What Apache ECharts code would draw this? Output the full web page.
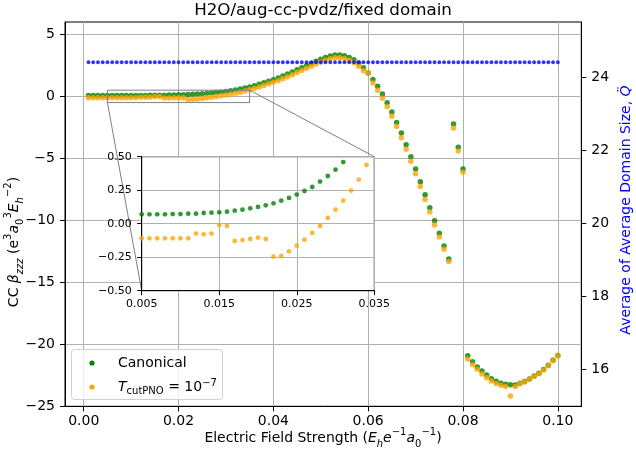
<!DOCTYPE html>
<html><head><meta charset="utf-8">
<script src="https://cdn.jsdelivr.net/npm/echarts@6/dist/echarts.min.js"></script>
<style>html,body{margin:0;padding:0;background:#fff}#c{width:636px;height:454px}</style>
</head><body><div id="c"></div>
<script>
const fieldStrength = [
  0.001,0.002,0.003,0.004,0.005,0.006,0.007,0.008,0.009,0.010,
  0.011,0.012,0.013,0.014,0.015,0.016,0.017,0.018,0.019,0.020,
  0.021,0.022,0.023,0.024,0.025,0.026,0.027,0.028,0.029,0.030,
  0.031,0.032,0.033,0.034,0.035,0.036,0.037,0.038,0.039,0.040,
  0.041,0.042,0.043,0.044,0.045,0.046,0.047,0.048,0.049,0.050,
  0.051,0.052,0.053,0.054,0.055,0.056,0.057,0.058,0.059,0.060,
  0.061,0.062,0.063,0.064,0.065,0.066,0.067,0.068,0.069,0.070,
  0.071,0.072,0.073,0.074,0.075,0.076,0.077,0.078,0.079,0.080,
  0.081,0.082,0.083,0.084,0.085,0.086,0.087,0.088,0.089,0.090,
  0.091,0.092,0.093,0.094,0.095,0.096,0.097,0.098,0.099,0.100
];
const canonical = [
  0.070,0.070,0.070,0.070,0.070,0.070,0.070,0.070,0.072,0.072,
  0.075,0.075,0.080,0.082,0.085,0.090,0.097,0.105,0.115,0.125,
  0.137,0.152,0.172,0.192,0.217,0.244,0.274,0.314,0.356,0.403,
  0.460,0.52,0.59,0.67,0.75,0.86,0.97,1.10,1.23,1.35,
  1.49,1.64,1.80,1.96,2.14,2.31,2.48,2.66,2.84,2.99,
  3.14,3.26,3.34,3.34,3.27,3.13,2.96,2.69,2.31,1.88,
  1.37,0.81,0.19,-0.52,-1.27,-2.10,-2.96,-3.90,-4.87,-5.86,
  -6.89,-7.94,-8.98,-10.03,-11.05,-12.07,-13.12,-2.23,-4.11,-5.86,
  -20.92,-21.40,-21.83,-22.16,-22.47,-22.77,-22.98,-23.14,-23.22,-23.27,
  -23.28,-23.15,-23.00,-22.79,-22.55,-22.34,-22.04,-21.69,-21.29,-20.90
];
const tcutPNO = [
  -0.109,-0.109,-0.109,-0.109,-0.109,-0.109,-0.109,-0.109,-0.109,-0.109,
  -0.109,-0.074,-0.079,-0.074,-0.010,-0.017,-0.129,-0.122,-0.114,-0.104,
  -0.114,-0.246,-0.241,-0.206,-0.164,-0.119,-0.069,-0.017,0.043,0.105,
  0.172,0.247,0.329,0.438,0.53,0.64,0.75,0.88,1.01,1.13,
  1.27,1.42,1.58,1.74,1.92,2.09,2.26,2.44,2.62,2.77,
  2.92,3.04,3.11,3.12,3.06,2.92,2.72,2.44,2.06,1.88,
  1.07,0.50,-0.15,-0.84,-1.61,-2.42,-3.34,-4.27,-5.24,-6.24,
  -7.26,-8.31,-9.33,-10.38,-11.35,-12.34,-13.31,-2.55,-4.41,-6.13,
  -21.19,-21.65,-22.02,-22.40,-22.70,-22.96,-23.17,-23.31,-23.40,-24.17,
  -23.40,-23.18,-23.04,-22.82,-22.58,-22.37,-22.07,-21.72,-21.32,-20.92
];
const domainSize = [
  24.4,24.4,24.4,24.4,24.4,24.4,24.4,24.4,24.4,24.4,
  24.4,24.4,24.4,24.4,24.4,24.4,24.4,24.4,24.4,24.4,
  24.4,24.4,24.4,24.4,24.4,24.4,24.4,24.4,24.4,24.4,
  24.4,24.4,24.4,24.4,24.4,24.4,24.4,24.4,24.4,24.4,
  24.4,24.4,24.4,24.4,24.4,24.4,24.4,24.4,24.4,24.4,
  24.4,24.4,24.4,24.4,24.4,24.4,24.4,24.4,24.4,24.4,
  24.4,24.4,24.4,24.4,24.4,24.4,24.4,24.4,24.4,24.4,
  24.4,24.4,24.4,24.4,24.4,24.4,24.4,24.4,24.4,24.4,
  24.4,24.4,24.4,24.4,24.4,24.4,24.4,24.4,24.4,24.4,
  24.4,24.4,24.4,24.4,24.4,24.4,24.4,24.4,24.4,24.4
];
const xTicks = [0, 0.02, 0.04, 0.06, 0.08, 0.10];
const xTickLabels = ['0.00','0.02','0.04','0.06','0.08','0.10'];
const leftTicks = [-25, -20, -15, -10, -5, 0, 5];
const rightTicks = [16, 18, 20, 22, 24];
const insetXTicks = [0.005, 0.015, 0.025, 0.035];
const insetXTickLabels = ['0.005','0.015','0.025','0.035'];
const insetYTicks = [-0.5, -0.25, 0, 0.25, 0.5];
const insetYTickLabels = ['\u22120.50','\u22120.25','0.00','0.25','0.50'];
const insetRange = {x: [0.005, 0.035], y: [-0.5, 0.5]};

const FONT = '"DejaVu Sans", sans-serif';
const pairs = ys => fieldStrength.map((x, i) => [x, ys[i]]);
const minus = s => String(s).replace('-', '\u2212');

const chart = echarts.init(document.getElementById('c'), null, {renderer: 'canvas'});

const richBase = {
  n: {fontSize: 14, fontFamily: FONT, lineHeight: 22, color: '#000'},
  i: {fontSize: 14, fontFamily: FONT, fontStyle: 'italic', lineHeight: 22, color: '#000'},
  sub: {fontSize: 10, fontFamily: FONT, lineHeight: 12, verticalAlign: 'bottom', color: '#000'},
  subi: {fontSize: 10, fontFamily: FONT, fontStyle: 'italic', lineHeight: 12, verticalAlign: 'bottom', color: '#000'},
  sup: {fontSize: 10, fontFamily: FONT, lineHeight: 12, verticalAlign: 'top', color: '#000'}
};
const richBlue = {
  n: {fontSize: 14, fontFamily: FONT, lineHeight: 22, color: '#0000ff'},
  i: {fontSize: 14, fontFamily: FONT, fontStyle: 'italic', lineHeight: 22, color: '#0000ff'}
};
const legendRich = {
  n: {fontSize: 14, fontFamily: FONT, lineHeight: 18, color: '#000'},
  i: {fontSize: 14, fontFamily: FONT, fontStyle: 'italic', lineHeight: 18, color: '#000'},
  sub: {fontSize: 10, fontFamily: FONT, lineHeight: 10, verticalAlign: 'bottom', color: '#000'},
  sup: {fontSize: 10, fontFamily: FONT, lineHeight: 10, verticalAlign: 'top', color: '#000'}
};
const axisLineStyle = {show: true, onZero: false, lineStyle: {color: '#000', width: 1}};

const option = {
  animation: false,
  backgroundColor: '#fff',
  grid: [
    {left: 65, top: 22, width: 516.3, height: 384.3, show: true, borderColor: '#000', borderWidth: 1, backgroundColor: 'transparent', z: 0},
    {left: 141.7, top: 156.7, width: 232.6, height: 134, show: true, borderColor: '#000', borderWidth: 1, backgroundColor: '#fff', z: 10}
  ],
  xAxis: [
    {type: 'value', gridIndex: 0, min: -0.00395, max: 0.10495,
     axisLine: axisLineStyle,
     axisTick: {show: true, length: 5, lineStyle: {color: '#000'}, customValues: xTicks},
     axisLabel: {customValues: xTicks, formatter: v => xTickLabels[xTicks.indexOf(v)], fontSize: 14, fontFamily: FONT, color: '#000', margin: 8},
     splitLine: {show: true, lineStyle: {color: '#b0b0b0', width: 1}}},
    {type: 'value', gridIndex: 1, min: insetRange.x[0], max: insetRange.x[1], z: 11,
     axisLine: axisLineStyle,
     axisTick: {show: true, length: 4.5, lineStyle: {color: '#000'}, customValues: insetXTicks},
     axisLabel: {customValues: insetXTicks, formatter: v => insetXTickLabels[insetXTicks.indexOf(v)], fontSize: 11, fontFamily: FONT, color: '#000', margin: 8},
     splitLine: {show: true, lineStyle: {color: '#b0b0b0', width: 1}}}
  ],
  yAxis: [
    {type: 'value', gridIndex: 0, position: 'left', min: -25, max: 6,
     axisLine: axisLineStyle,
     axisTick: {show: true, length: 5, lineStyle: {color: '#000'}, customValues: leftTicks},
     axisLabel: {customValues: leftTicks, formatter: v => minus(v), fontSize: 14, fontFamily: FONT, color: '#000', margin: 10},
     splitLine: {show: true, lineStyle: {color: '#b0b0b0', width: 1}}},
    {type: 'value', gridIndex: 0, position: 'right', min: 15, max: 25.5,
     axisLine: axisLineStyle,
     axisTick: {show: true, length: 5, lineStyle: {color: '#000'}, customValues: rightTicks},
     axisLabel: {customValues: rightTicks, formatter: v => String(v), fontSize: 14, fontFamily: FONT, color: '#000', margin: 10},
     splitLine: {show: false}},
    {type: 'value', gridIndex: 1, min: insetRange.y[0], max: insetRange.y[1], z: 11,
     axisLine: axisLineStyle,
     axisTick: {show: true, length: 4.5, lineStyle: {color: '#000'}, customValues: insetYTicks},
     axisLabel: {customValues: insetYTicks, formatter: v => insetYTickLabels[insetYTicks.indexOf(v)], fontSize: 11, fontFamily: FONT, color: '#000', margin: 10},
     splitLine: {show: true, lineStyle: {color: '#b0b0b0', width: 1}}}
  ],
  series: [
    {type: 'scatter', name: 'Canonical', xAxisIndex: 0, yAxisIndex: 0, data: pairs(canonical),
     symbol: 'circle', symbolSize: 5.5, itemStyle: {color: '#008000'}, z: 2, silent: true},
    {type: 'scatter', name: 'Tcut', xAxisIndex: 0, yAxisIndex: 0, data: pairs(tcutPNO),
     symbol: 'circle', symbolSize: 5.5, itemStyle: {color: '#ffa500'}, z: 3, silent: true},
    {type: 'scatter', name: 'Domain', xAxisIndex: 0, yAxisIndex: 1, data: pairs(domainSize),
     symbol: 'circle', symbolSize: 3.8, itemStyle: {color: '#0000ff'}, z: 4, silent: true},
    {type: 'scatter', name: 'Canonical inset', xAxisIndex: 1, yAxisIndex: 2, data: pairs(canonical),
     symbol: 'circle', symbolSize: 4.8, itemStyle: {color: '#008000'}, z: 12, clip: true, silent: true},
    {type: 'scatter', name: 'Tcut inset', xAxisIndex: 1, yAxisIndex: 2, data: pairs(tcutPNO),
     symbol: 'circle', symbolSize: 4.8, itemStyle: {color: '#ffa500'}, z: 13, clip: true, silent: true}
  ]
};
chart.setOption(option);

// zoom indicator rectangle and connectors, computed from axes
const mainPx = pt => chart.convertToPixel({xAxisIndex: 0, yAxisIndex: 0}, pt);
const insetPx = pt => chart.convertToPixel({xAxisIndex: 1, yAxisIndex: 2}, pt);
const rLL = mainPx([insetRange.x[0], insetRange.y[0]]);
const rUR = mainPx([insetRange.x[1], insetRange.y[1]]);
const iLL = insetPx([insetRange.x[0], insetRange.y[0]]);
const iUR = insetPx([insetRange.x[1], insetRange.y[1]]);
const grey = '#7f7f7f';
const center = {textAlign: 'center', textVerticalAlign: 'middle', align: 'center', verticalAlign: 'middle'};

chart.setOption({
  graphic: [
    {type: 'rect', z: 5, silent: true,
     shape: {x: rLL[0], y: rUR[1], width: rUR[0] - rLL[0], height: rLL[1] - rUR[1]},
     style: {fill: 'none', stroke: grey, lineWidth: 1}},
    {type: 'line', z: 5, silent: true, shape: {x1: rLL[0], y1: rLL[1], x2: iLL[0], y2: iLL[1]},
     style: {stroke: grey, lineWidth: 1}},
    {type: 'line', z: 5, silent: true, shape: {x1: rUR[0], y1: rUR[1], x2: iUR[0], y2: iUR[1]},
     style: {stroke: grey, lineWidth: 1}},
    // legend
    {type: 'rect', z: 20, silent: true, shape: {x: 71.5, y: 349.5, width: 151, height: 50, r: 3},
     style: {fill: 'rgba(255,255,255,0.8)', stroke: '#d0d0d0', lineWidth: 1}},
    {type: 'circle', z: 21, silent: true, shape: {cx: 92, cy: 363, r: 2.6}, style: {fill: '#008000'}},
    {type: 'circle', z: 21, silent: true, shape: {cx: 92, cy: 387, r: 2.6}, style: {fill: '#ffa500'}},
    {type: 'text', z: 21, silent: true, x: 118, y: 363,
     style: {text: '{n|Canonical}', rich: legendRich, textAlign: 'left', align: 'left', verticalAlign: 'middle', textVerticalAlign: 'middle'}},
    {type: 'text', z: 21, silent: true, x: 118, y: 387,
     style: {text: '{i|T}{sub|cutPNO}{n| = 10}{sup|\u22127}', rich: legendRich, textAlign: 'left', align: 'left', verticalAlign: 'middle', textVerticalAlign: 'middle'}},
    // titles
    {type: 'text', z: 20, silent: true, x: 323, y: 11,
     style: Object.assign({text: 'H2O/aug-cc-pvdz/fixed domain', font: '16.7px "DejaVu Sans"', fill: '#000'}, center)},
    {type: 'text', z: 20, silent: true, x: 323, y: 438,
     style: Object.assign({text: '{n|Electric Field Strength (}{i|E}{subi|h}{i|e}{sup|\u22121}{i|a}{sub|0}{sup|\u22121}{n|)}', rich: richBase}, center)},
    {type: 'text', z: 20, silent: true, x: 14, y: 242, rotation: Math.PI / 2,
     style: Object.assign({text: '{n|CC }{i|\u03b2}{subi|zzz}{n| (e}{sup|3}{i|a}{sub|0}{sup|3}{i|E}{subi|h}{sup|\u22122}{n|)}', rich: richBase}, center)},
    {type: 'text', z: 20, silent: true, x: 626, y: 210, rotation: Math.PI / 2,
     style: Object.assign({text: '{n|Average of Average Domain Size, }{i|Q\u0308}', rich: richBlue, fill: '#0000ff'}, center)}
  ]
});
</script>
</body></html>
